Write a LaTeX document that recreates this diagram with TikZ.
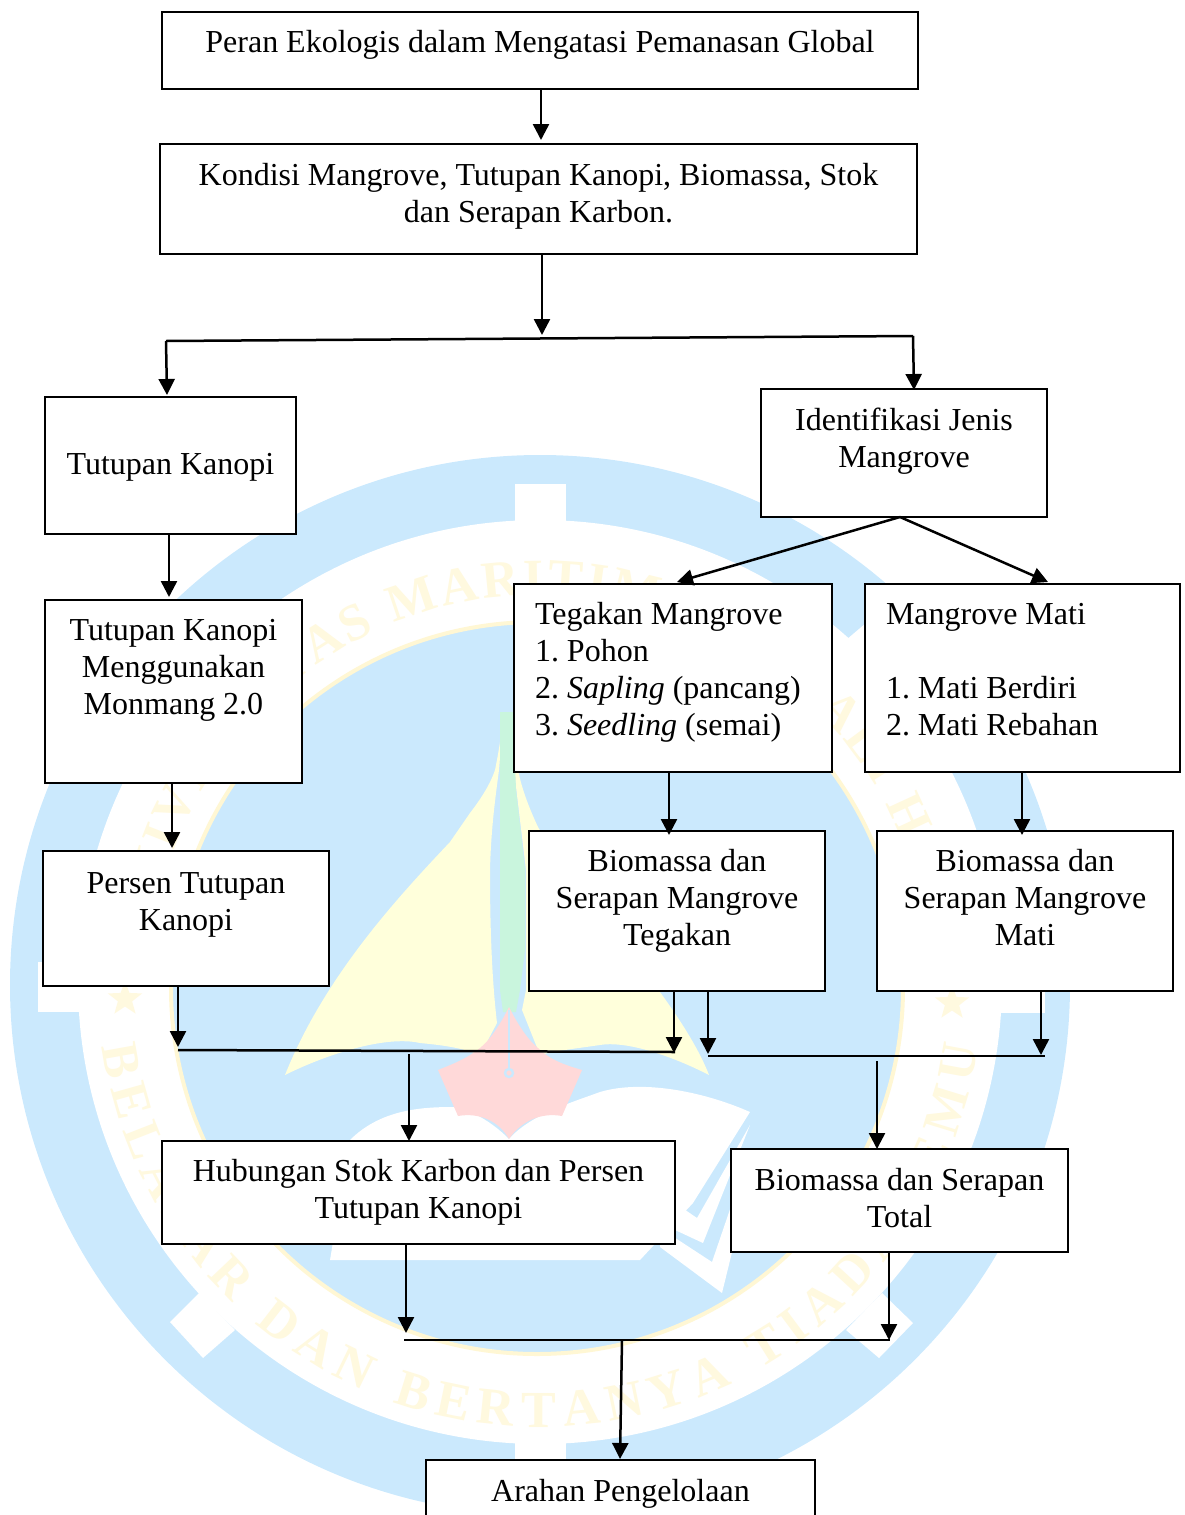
\documentclass[tikz,border=0pt]{standalone}
\usepackage{fontspec}
\setmainfont{Liberation Serif}
\newfontfamily\wmfont{Liberation Serif}[Scale=1]
\usetikzlibrary{arrows.meta,decorations.text,shapes.geometric}
\definecolor{wmblue}{HTML}{CBE9FD}
\definecolor{wmyel}{HTML}{FFF9DF}
\definecolor{wmring}{HTML}{FFF7D4}
\definecolor{wmsail}{HTML}{FFFFDB}
\definecolor{wmgreen}{HTML}{C9F5DD}
\definecolor{wmred}{HTML}{FFD9D9}
\newcommand{\wmstyle}{\wmfont\bfseries\fontsize{26}{26}\selectfont\color{wmyel}}
\newcommand{\mainsize}{\frenchspacing\fontsize{16}{18.5}\selectfont}
% \flowbox{name}{x1}{y1}{x2}{y2}{gap above first line}{alignment}{text}
\newlength{\bw}\newlength{\bh}
\newcommand{\flowbox}[8]{%
  \pgfmathsetlength{\bw}{(#4-#2)*0.5pt}%
  \pgfmathsetlength{\bh}{(#5-#3)*0.5pt}%
  \node[flowrect,minimum width=\bw,minimum height=\bh] (#1) at ({(#2+#4)/2},{-(#3+#5)/2})
    {\begin{minipage}[c][\bh][t]{\bw}\mainsize\vspace{#6pt}#7#8\end{minipage}};}
\tikzset{
  flowrect/.style={draw=black,line width=1.05pt,fill=white,inner sep=0pt,outer sep=0pt},
  conn/.style={draw=black,line width=1.25pt,-{Triangle[width=8pt,length=8pt]}},
  bar/.style={draw=black,line width=1.25pt},
  wmtooth/.style={fill=white,draw=none},
  wmstar/.style={star,star points=5,star point ratio=2.4,fill=wmyel,draw=none,minimum size=18pt,inner sep=0pt}
}
\begin{document}
\begin{tikzpicture}[x=0.5pt,y=0.5pt]
\clip (0,0) rectangle (1184,-1515);
\useasboundingbox (0,0) rectangle (1184,-1515);
% --- watermark ---
\fill[wmblue] (540,-985) circle[radius=530];
\fill[white] (540,-982) circle[radius=462];
\fill[wmtooth] (515,-484) rectangle (566,-530);
\fill[wmtooth] (515,-1490) rectangle (566,-1430);
\fill[wmtooth] (38,-962) rectangle (90,-1012);
\fill[wmtooth] (997,-1013) rectangle (1045,-958);
\fill[wmtooth] (199,-1293) -- (170,-1322) -- (203,-1358) -- (235,-1330) -- cycle;
\fill[wmtooth] (882,-1293) -- (913,-1323) -- (879,-1358) -- (846,-1330) -- cycle;
\fill[wmtooth] (199,-677) -- (170,-648) -- (203,-612) -- (235,-640) -- cycle;
\fill[wmtooth] (882,-677) -- (913,-647) -- (879,-612) -- (846,-640) -- cycle;
\draw[wmring,line width=2pt,fill=wmblue] (537,-988) circle[radius=366];
\path[decorate,decoration={text along path,text align={fit to path},
  text={|\wmstyle|UNIVERSITAS MARITIM RAJA ALI HAJI}}]
  [shift={(540,-985)}] (172:195pt) arc[start angle=172,end angle=8,radius=195pt];
\path[decorate,decoration={text along path,text align={fit to path},
  text={|\wmstyle|BELAJAR DAN BERTANYA TIADA JEMU}}]
  [shift={(540,-985)}] (-172:221pt) arc[start angle=-172,end angle=-8,radius=221pt];
\node[wmstar] (wmstarl) at (125,-999) {};
\node[wmstar] (wmstarr) at (952,-1003) {};
% sails
\fill[wmsail] (503,-720) .. controls (500,-745) and (497,-760) .. (495,-770)
  .. controls (490,-785) and (480,-800) .. (470,-813)
  -- (450,-842)
  .. controls (400,-895) and (325,-975) .. (285,-1075)
  .. controls (325,-1055) and (385,-1035) .. (420,-1043)
  .. controls (440,-1045) and (460,-1047) .. (480,-1055)
  -- (497,-1023)
  .. controls (492,-980) and (490,-930) .. (490,-870)
  .. controls (491,-830) and (495,-800) .. (499,-770) -- cycle;
\fill[wmsail] (513,-720) -- (518,-770)
  .. controls (522,-790) and (530,-810) .. (538,-827)
  .. controls (580,-900) and (680,-1000) .. (709,-1075)
  .. controls (680,-1060) and (630,-1040) .. (600,-1045)
  .. controls (580,-1048) and (560,-1050) .. (540,-1055)
  -- (522,-1010) -- (526,-990) -- (526,-870) -- (514,-770) -- cycle;
\fill[wmgreen] (500,-712) -- (513,-712) -- (516,-790) -- (525,-870) -- (525,-950)
  -- (520,-990) -- (516,-1012) -- (503,-1012) -- (500,-990) -- cycle;
% book
\fill[white] (509,-1139) .. controls (530,-1115) and (570,-1103) .. (600,-1092)
  .. controls (640,-1080) and (700,-1090) .. (750,-1112)
  -- (693,-1203) -- (640,-1260) -- (330,-1260) -- (350,-1140)
  .. controls (380,-1110) and (420,-1107) .. (453,-1107)
  .. controls (470,-1110) and (490,-1120) .. (509,-1139) -- cycle;
\fill[white] (675,-1203) -- (697,-1218) -- (750,-1125) -- (703,-1243) -- (675,-1230) -- cycle;
\fill[white] (660,-1228) -- (712,-1262) -- (740,-1180) -- (735,-1240) -- (722,-1293) -- (660,-1247) -- cycle;
% pennant
\fill[wmred] (509,-1007) .. controls (500,-1025) and (490,-1040) .. (480,-1048)
  .. controls (465,-1060) and (450,-1065) .. (438,-1070)
  -- (458,-1116)
  .. controls (480,-1112) and (500,-1122) .. (509,-1139)
  .. controls (520,-1122) and (540,-1112) .. (562,-1116)
  -- (582,-1070)
  .. controls (565,-1065) and (550,-1060) .. (538,-1048)
  .. controls (528,-1040) and (518,-1025) .. (509,-1007) -- cycle;
\draw[wmblue,line width=0.6pt] (509,-1010) -- (509,-1070);
\draw[wmblue,line width=1.2pt] (509,-1073) circle[radius=4];
% --- boxes ---
\flowbox{b1}{162}{12}{918}{89}{9}{\centering}{Peran Ekologis dalam Mengatasi Pemanasan Global}
\flowbox{b2}{160}{144}{917}{254}{9.5}{\centering}{Kondisi Mangrove, Tutupan Kanopi, Biomassa, Stok\\dan Serapan Karbon.}
\flowbox{b3}{45}{397}{296}{534}{28.3}{\centering}{Tutupan Kanopi}
\flowbox{b4}{761}{389}{1047}{517}{9.5}{\centering}{Identifikasi Jenis\\Mangrove}
\flowbox{b5}{45}{600}{302}{783}{9.5}{\centering}{Tutupan Kanopi\\Menggunakan\\Monmang 2.0}
\flowbox{b6}{514}{584}{832}{772}{9}{\leftskip=10.5pt\parindent=0pt}{Tegakan Mangrove\\1. Pohon\\2. \textit{Sapling} (pancang)\\3. \textit{Seedling} (semai)}
\flowbox{b7}{865}{584}{1180}{772}{9.5}{\leftskip=10.5pt\parindent=0pt}{Mangrove Mati\\\mbox{}\\1. Mati Berdiri\\2. Mati Rebahan}
\flowbox{b8}{43}{851}{329}{986}{11}{\centering}{Persen Tutupan\\Kanopi}
\flowbox{b9}{529}{831}{825}{991}{9}{\centering}{Biomassa dan\\Serapan Mangrove\\Tegakan}
\flowbox{b10}{877}{831}{1173}{991}{9}{\centering}{Biomassa dan\\Serapan Mangrove\\Mati}
\flowbox{b11}{162}{1141}{675}{1244}{9}{\centering}{Hubungan Stok Karbon dan Persen\\Tutupan Kanopi}
\flowbox{b12}{731}{1149}{1068}{1252}{9.5}{\centering}{Biomassa dan Serapan\\Total}
\flowbox{b13}{426}{1460}{815}{1560}{9.5}{\centering}{Arahan Pengelolaan}
% --- connector ends ---
\coordinate (a12) at (541,-140);
\coordinate (j2) at (542,-335);
\coordinate (hl) at (166,-341);
\coordinate (hr) at (913,-336);
\coordinate (a3) at (167,-395);
\coordinate (a4) at (914,-390);
\coordinate (a35) at (169,-597);
\coordinate (t4) at (900,-517);
\coordinate (a6) at (677,-582);
\coordinate (a7) at (1048,-582);
\coordinate (a58) at (172,-848);
\coordinate (a69) at (669,-835);
\coordinate (a710) at (1022,-835);
\coordinate (c8) at (178,-1047);
\coordinate (l1l) at (178,-1050);
\coordinate (l1r) at (675,-1052);
\coordinate (c9) at (674,-1053);
\coordinate (c9b) at (708,-1054);
\coordinate (c10) at (1041,-1055);
\coordinate (l2l) at (708,-1056);
\coordinate (l2r) at (1045,-1056);
\coordinate (s11) at (409,-1054);
\coordinate (a11) at (409,-1141);
\coordinate (s12) at (877,-1061);
\coordinate (a12b) at (877,-1149);
\coordinate (c11) at (406,-1333);
\coordinate (c12) at (889,-1340);
\coordinate (l3l) at (404,-1340);
\coordinate (l3r) at (890,-1340);
\coordinate (s13) at (622,-1340);
\coordinate (a13) at (620,-1459);
% --- connectors ---
\draw[conn] (b1.south -| a12) -- (a12);
\draw[conn] (b2.south -| j2) -- (j2);
\draw[bar] (hl) -- (hr);
\draw[conn] (hl) -- (a3);
\draw[conn] (hr) -- (a4);
\draw[conn] (b3.south -| a35) -- (a35);
\draw[conn] (b4.south -| t4) -- (a6);
\draw[conn] (b4.south -| t4) -- (a7);
\draw[conn] (b5.south -| a58) -- (a58);
\draw[conn] (b6.south -| a69) -- (a69);
\draw[conn] (b7.south -| a710) -- (a710);
\draw[conn] (b8.south -| c8) -- (c8);
\draw[bar] (l1l) -- (l1r);
\draw[conn] (b9.south -| c9) -- (c9);
\draw[conn] (b9.south -| c9b) -- (c9b);
\draw[conn] (b10.south -| c10) -- (c10);
\draw[bar] (l2l) -- (l2r);
\draw[conn] (s11) -- (a11);
\draw[conn] (s12) -- (a12b);
\draw[conn] (b11.south -| c11) -- (c11);
\draw[conn] (b12.south -| c12) -- (c12);
\draw[bar] (l3l) -- (l3r);
\draw[conn] (s13) -- (a13);
\end{tikzpicture}
\end{document}
